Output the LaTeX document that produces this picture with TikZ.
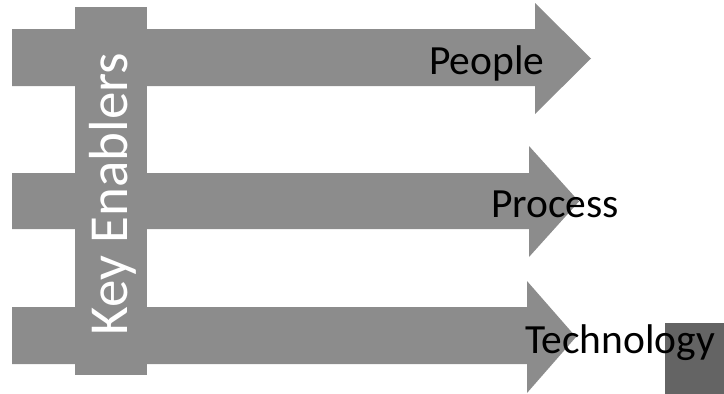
\documentclass[tikz,border=0pt]{standalone}
\usepackage{fontspec}
\setmainfont{Carlito}
\usepackage{tikz}
\definecolor{bargray}{RGB}{140,140,140}
\definecolor{boxgray}{RGB}{100,100,100}
\tikzstyle{band} = [fill=bargray, draw=none]
\tikzstyle{label} = [inner sep=0pt, anchor=base west, font=\fontsize{41.5}{48}\selectfont]
\tikzstyle{enabler} = [inner sep=0pt, anchor=base, rotate=90, text=white, font=\fontsize{55}{62}\selectfont]

\begin{document}
\begin{tikzpicture}[x=1pt, y=-1pt]
	\useasboundingbox (0,0) rectangle (724,394);
	% the three arrows
	\fill [band] (12,29) -- (535,29) -- (535,3) -- (591,58.5) -- (535,114) -- (535,86) -- (12,86) -- cycle;
	\fill [band] (12,173) -- (529,173) -- (529,146) -- (579,201.5) -- (529,257) -- (529,229) -- (12,229) -- cycle;
	\fill [band] (12,307) -- (527,307) -- (527,281) -- (576,337) -- (527,393) -- (527,364) -- (12,364) -- cycle;
	% bar across them
	\fill [band] (75,7) rectangle (147,375);
	\fill [boxgray] (665,323) rectangle (724,394);
	\node (key) [enabler] at (127,194) {Key Enablers};
	\node (people) [label] at (429,74) {People};
	\node (process) [label] at (491,217) {Process};
	\node (tech) [label] at (525,353) {Technology};
\end{tikzpicture}
\end{document}
